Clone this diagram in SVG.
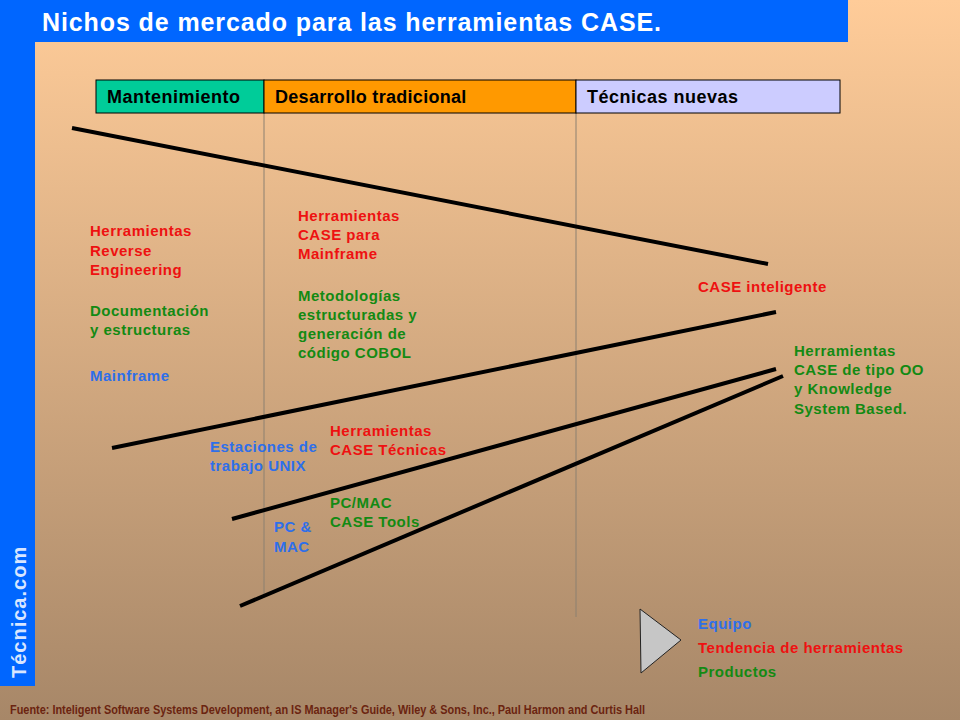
<svg xmlns="http://www.w3.org/2000/svg" width="960" height="720" viewBox="0 0 960 720">
<defs>
<linearGradient id="bg" x1="0" y1="0" x2="0" y2="1">
<stop offset="0" stop-color="#FFCC99"/>
<stop offset="1" stop-color="#A78768"/>
</linearGradient>
<style>
text{font-family:"Liberation Sans",Arial,sans-serif;font-weight:bold}
.hdr{font-size:18px;fill:#000;letter-spacing:0.5px}
.hdr.tight{letter-spacing:0.3px}
.t{font-size:15px;letter-spacing:0.5px}
.r{fill:#EE1111}
.g{fill:#138A13}
.b{fill:#2E6FEA}
.trend{stroke:#000;stroke-width:4;fill:none}
.div{stroke:#8C8070;stroke-width:1}
</style>
</defs>
<rect x="0" y="0" width="960" height="720" fill="url(#bg)"/>
<rect x="0" y="0" width="848" height="42" fill="#0066FF"/>
<rect x="0" y="0" width="35" height="686" fill="#0066FF"/>
<text x="42" y="31" font-size="25" letter-spacing="0.9" fill="#FFFFFF">Nichos de mercado para las herramientas CASE.</text>
<text transform="translate(26,678) rotate(-90)" font-size="20" letter-spacing="1" fill="#D8E6FF">Técnica.com</text>

<g id="dividers">
<line class="div" x1="264" y1="112" x2="264" y2="598"/>
<line class="div" x1="576" y1="112" x2="576" y2="617"/>
</g>

<g id="header-mantenimiento">
<rect x="96" y="80" width="168" height="33" fill="#00CC99" stroke="#000" stroke-width="1"/>
<text class="hdr" x="107" y="103">Mantenimiento</text>
</g>
<g id="header-desarrollo">
<rect x="264" y="80" width="312" height="33" fill="#FF9900" stroke="#000" stroke-width="1"/>
<text class="hdr tight" x="275" y="103">Desarrollo tradicional</text>
</g>
<g id="header-tecnicas">
<rect x="576" y="80" width="264" height="33" fill="#CCCCFF" stroke="#000" stroke-width="1"/>
<text class="hdr" x="587" y="103">Técnicas nuevas</text>
</g>

<g id="connectors">
<line class="trend" x1="72" y1="128" x2="768" y2="264"/>
<line class="trend" x1="112" y1="448" x2="776" y2="312"/>
<line class="trend" x1="232" y1="519" x2="776" y2="369"/>
<line class="trend" x1="240" y1="606" x2="783" y2="376"/>
</g>

<g id="reverse-engineering">
<text class="t r" x="90" y="236">Herramientas</text>
<text class="t r" x="90" y="256">Reverse</text>
<text class="t r" x="90" y="275">Engineering</text>
</g>
<g id="documentacion">
<text class="t g" x="90" y="316">Documentación</text>
<text class="t g" x="90" y="335">y estructuras</text>
</g>
<g id="mainframe">
<text class="t b" x="90" y="381">Mainframe</text>
</g>
<g id="case-mainframe">
<text class="t r" x="298" y="221">Herramientas</text>
<text class="t r" x="298" y="240">CASE para</text>
<text class="t r" x="298" y="259">Mainframe</text>
</g>
<g id="metodologias">
<text class="t g" x="298" y="301">Metodologías</text>
<text class="t g" x="298" y="320">estructuradas y</text>
<text class="t g" x="298" y="339">generación de</text>
<text class="t g" x="298" y="358">código COBOL</text>
</g>
<g id="unix">
<text class="t b" x="210" y="452">Estaciones de</text>
<text class="t b" x="210" y="471">trabajo UNIX</text>
</g>
<g id="case-tecnicas">
<text class="t r" x="330" y="436">Herramientas</text>
<text class="t r" x="330" y="455">CASE Técnicas</text>
</g>
<g id="pcmac-tools">
<text class="t g" x="330" y="508">PC/MAC</text>
<text class="t g" x="330" y="527">CASE Tools</text>
</g>
<g id="pcmac">
<text class="t b" x="274" y="532">PC &amp;</text>
<text class="t b" x="274" y="552">MAC</text>
</g>
<g id="case-inteligente">
<text class="t r" x="698" y="292">CASE inteligente</text>
</g>
<g id="case-oo">
<text class="t g" x="794" y="356">Herramientas</text>
<text class="t g" x="794" y="375">CASE de tipo OO</text>
<text class="t g" x="794" y="394">y Knowledge</text>
<text class="t g" x="794" y="414">System Based.</text>
</g>

<g id="legend">
<polygon points="640,609 681,640 641,673" fill="#C6C6C6" stroke="#222" stroke-width="1"/>
<text class="t b" x="698" y="629">Equipo</text>
<text class="t r" x="698" y="653">Tendencia de herramientas</text>
<text class="t g" x="698" y="677">Productos</text>
</g>

<text x="10" y="714" font-size="12.5" fill="#6B2410" textLength="635" lengthAdjust="spacingAndGlyphs">Fuente: Inteligent Software Systems Development, an IS  Manager's Guide, Wiley &amp; Sons, Inc., Paul Harmon and Curtis Hall</text>
</svg>
